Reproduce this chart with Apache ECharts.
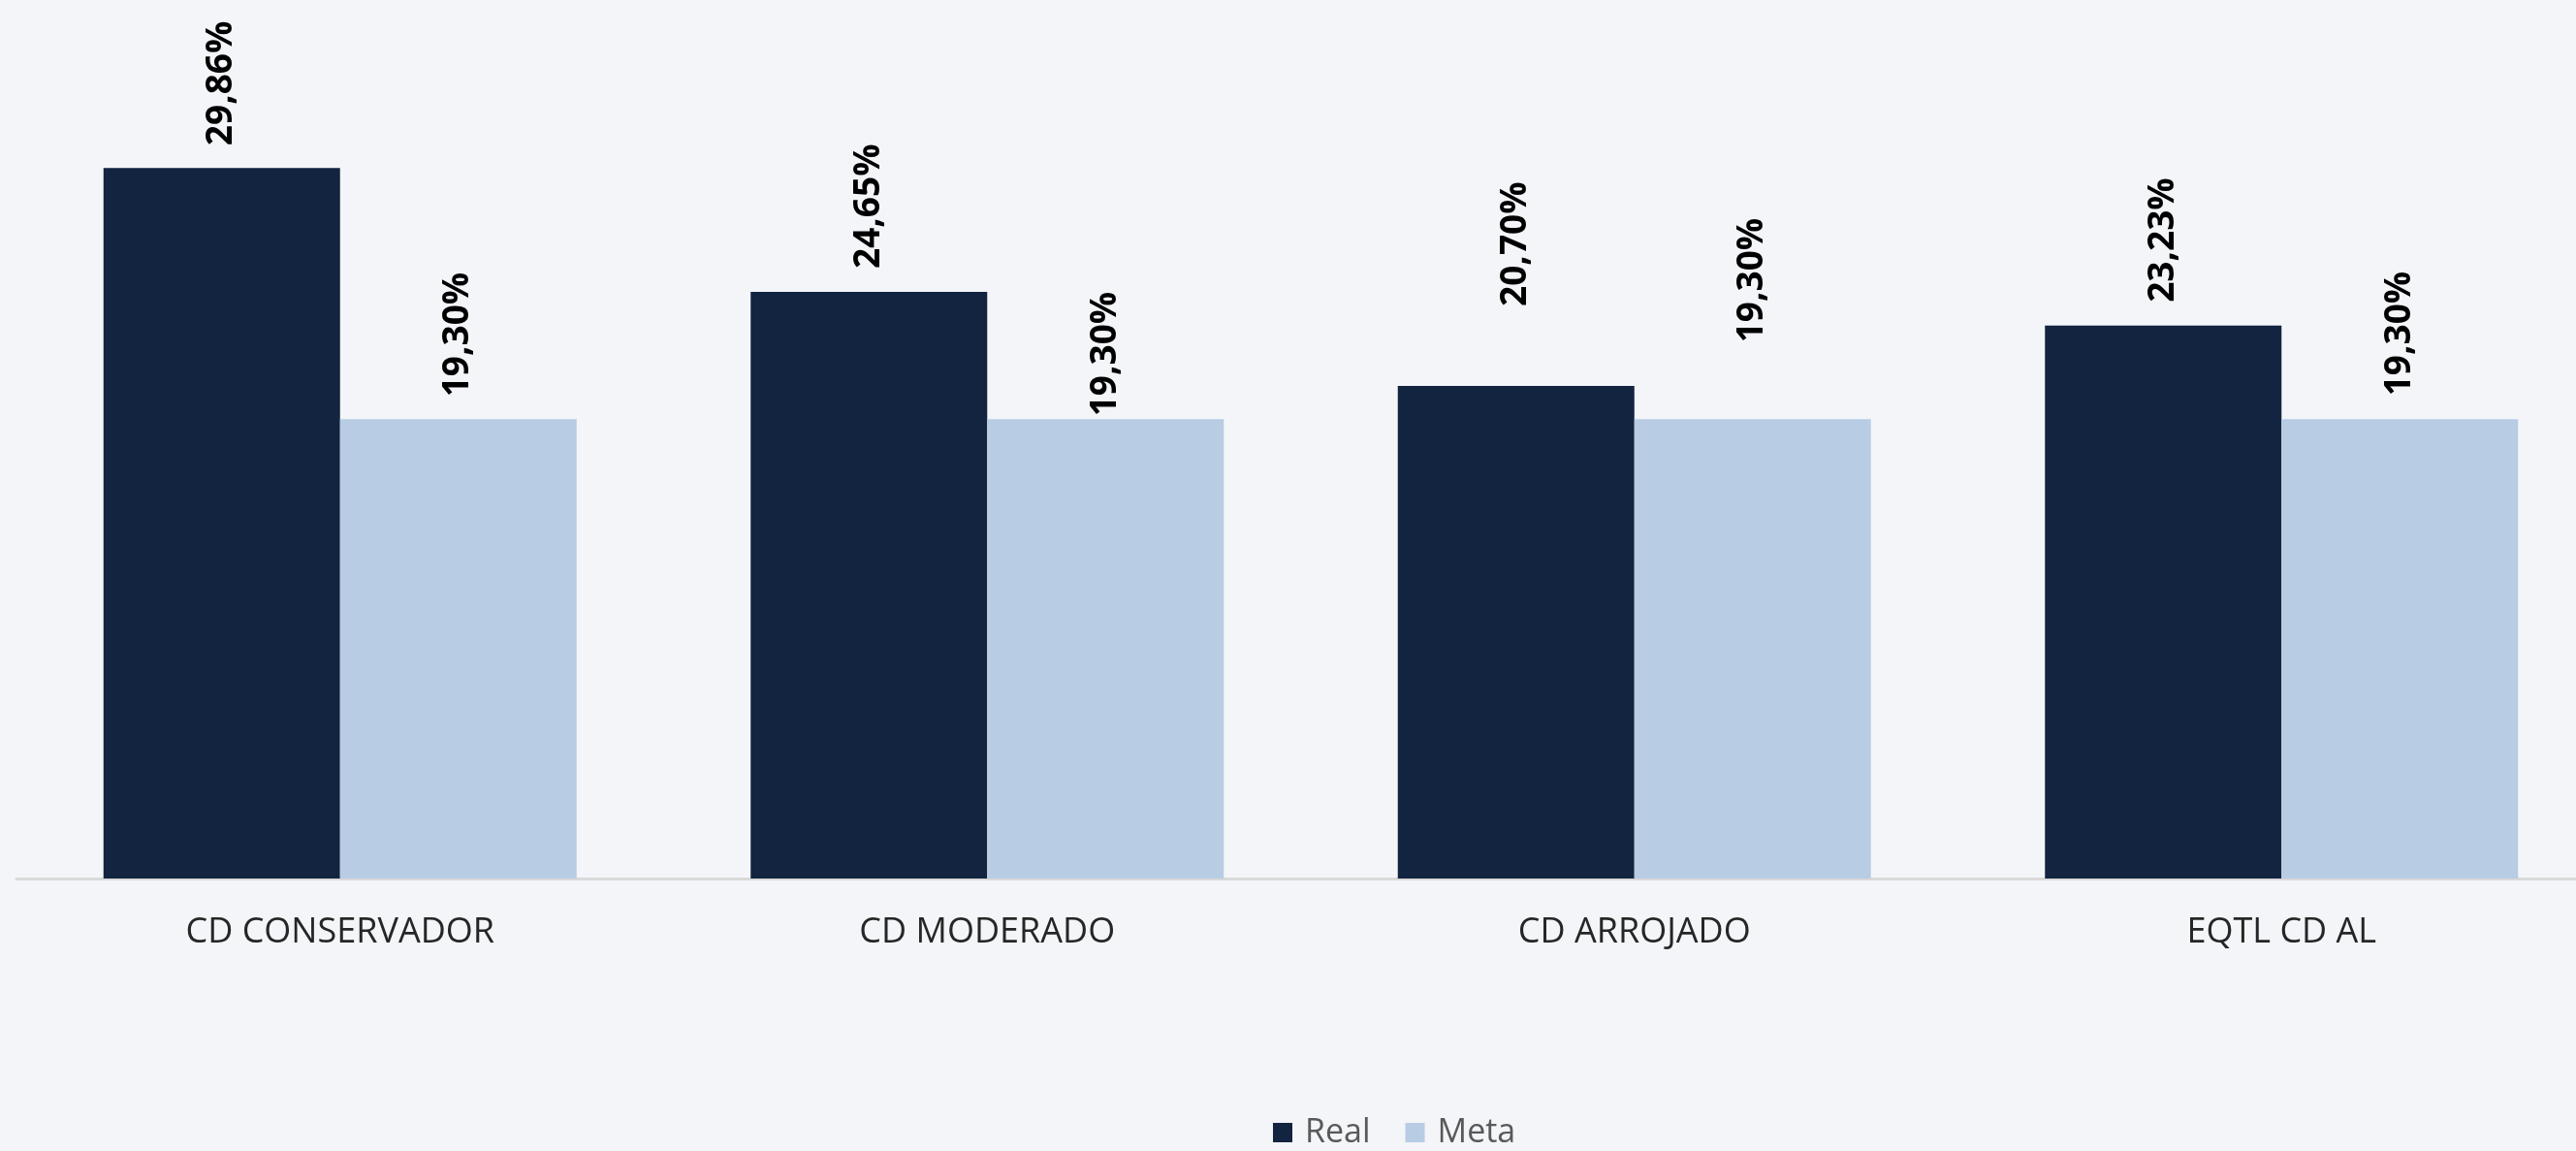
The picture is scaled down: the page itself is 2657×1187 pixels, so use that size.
<!DOCTYPE html>
<html>
<head>
<meta charset="utf-8">
<script src="https://cdn.jsdelivr.net/npm/echarts@6/dist/echarts.min.js"></script>
<style>
  html, body { margin: 0; padding: 0; background: #f3f5f9; }
  #chart { width: 2657px; height: 1187px; }
</style>
</head>
<body>
<div id="chart"></div>
<script>
// dados
const categories = ['CD CONSERVADOR', 'CD MODERADO', 'CD ARROJADO', 'EQTL CD AL']
const realValues = [29.86, 24.65, 20.70, 23.23]
const metaValues = [19.30, 19.30, 19.30, 19.30]

// afastamento dos rótulos em relação ao topo da barra (px)
const realLabelGap = [23, 24, 82, 24]
const metaLabelGap = [23, 3, 79, 24]

const fontFamily = '"Open Sans", "Noto Sans", sans-serif'

function fmtPct(p) {
  return p.value.toFixed(2).replace('.', ',') + '%'
}

const barLabel = {
  show: true,
  position: 'top',
  rotate: 90,
  align: 'left',
  verticalAlign: 'middle',
  formatter: fmtPct,
  color: '#000000',
  fontFamily: fontFamily,
  fontWeight: 'bold',
  fontSize: 37
}

function withLabelGap(values, gaps) {
  return values.map((v, i) => ({ value: v, label: { distance: gaps[i] } }))
}

const chart = echarts.init(document.getElementById('chart'))
chart.setOption({
  backgroundColor: '#f3f5f9',
  animation: false,
  grid: {
    left: 17,
    width: 2670,
    top: 47,
    bottom: 281,
    containLabel: false,
    outerBoundsMode: 'none'
  },
  legend: {
    left: 1308,
    top: 1146,
    itemWidth: 20,
    itemHeight: 20,
    itemGap: 36,
    icon: 'rect',
    textStyle: {
      fontFamily: fontFamily,
      fontSize: 34,
      color: '#595959',
      padding: [0, 0, 0, 8]
    },
    data: ['Real', 'Meta']
  },
  xAxis: {
    type: 'category',
    data: categories,
    axisLine: { lineStyle: { color: '#d9d9d9', width: 3 } },
    axisTick: { show: false },
    axisLabel: {
      margin: 38,
      color: '#262626',
      fontFamily: fontFamily,
      fontSize: 36
    }
  },
  yAxis: {
    type: 'value',
    min: 0,
    max: 35,
    show: false,
    splitLine: { show: false }
  },
  series: [
    {
      name: 'Real',
      type: 'bar',
      data: withLabelGap(realValues, realLabelGap),
      barWidth: 244,
      barGap: '0%',
      itemStyle: { color: '#12243f' },
      label: barLabel
    },
    {
      name: 'Meta',
      type: 'bar',
      data: withLabelGap(metaValues, metaLabelGap),
      barWidth: 244,
      itemStyle: { color: '#b8cce4' },
      label: barLabel
    }
  ]
})
</script>
</body>
</html>
